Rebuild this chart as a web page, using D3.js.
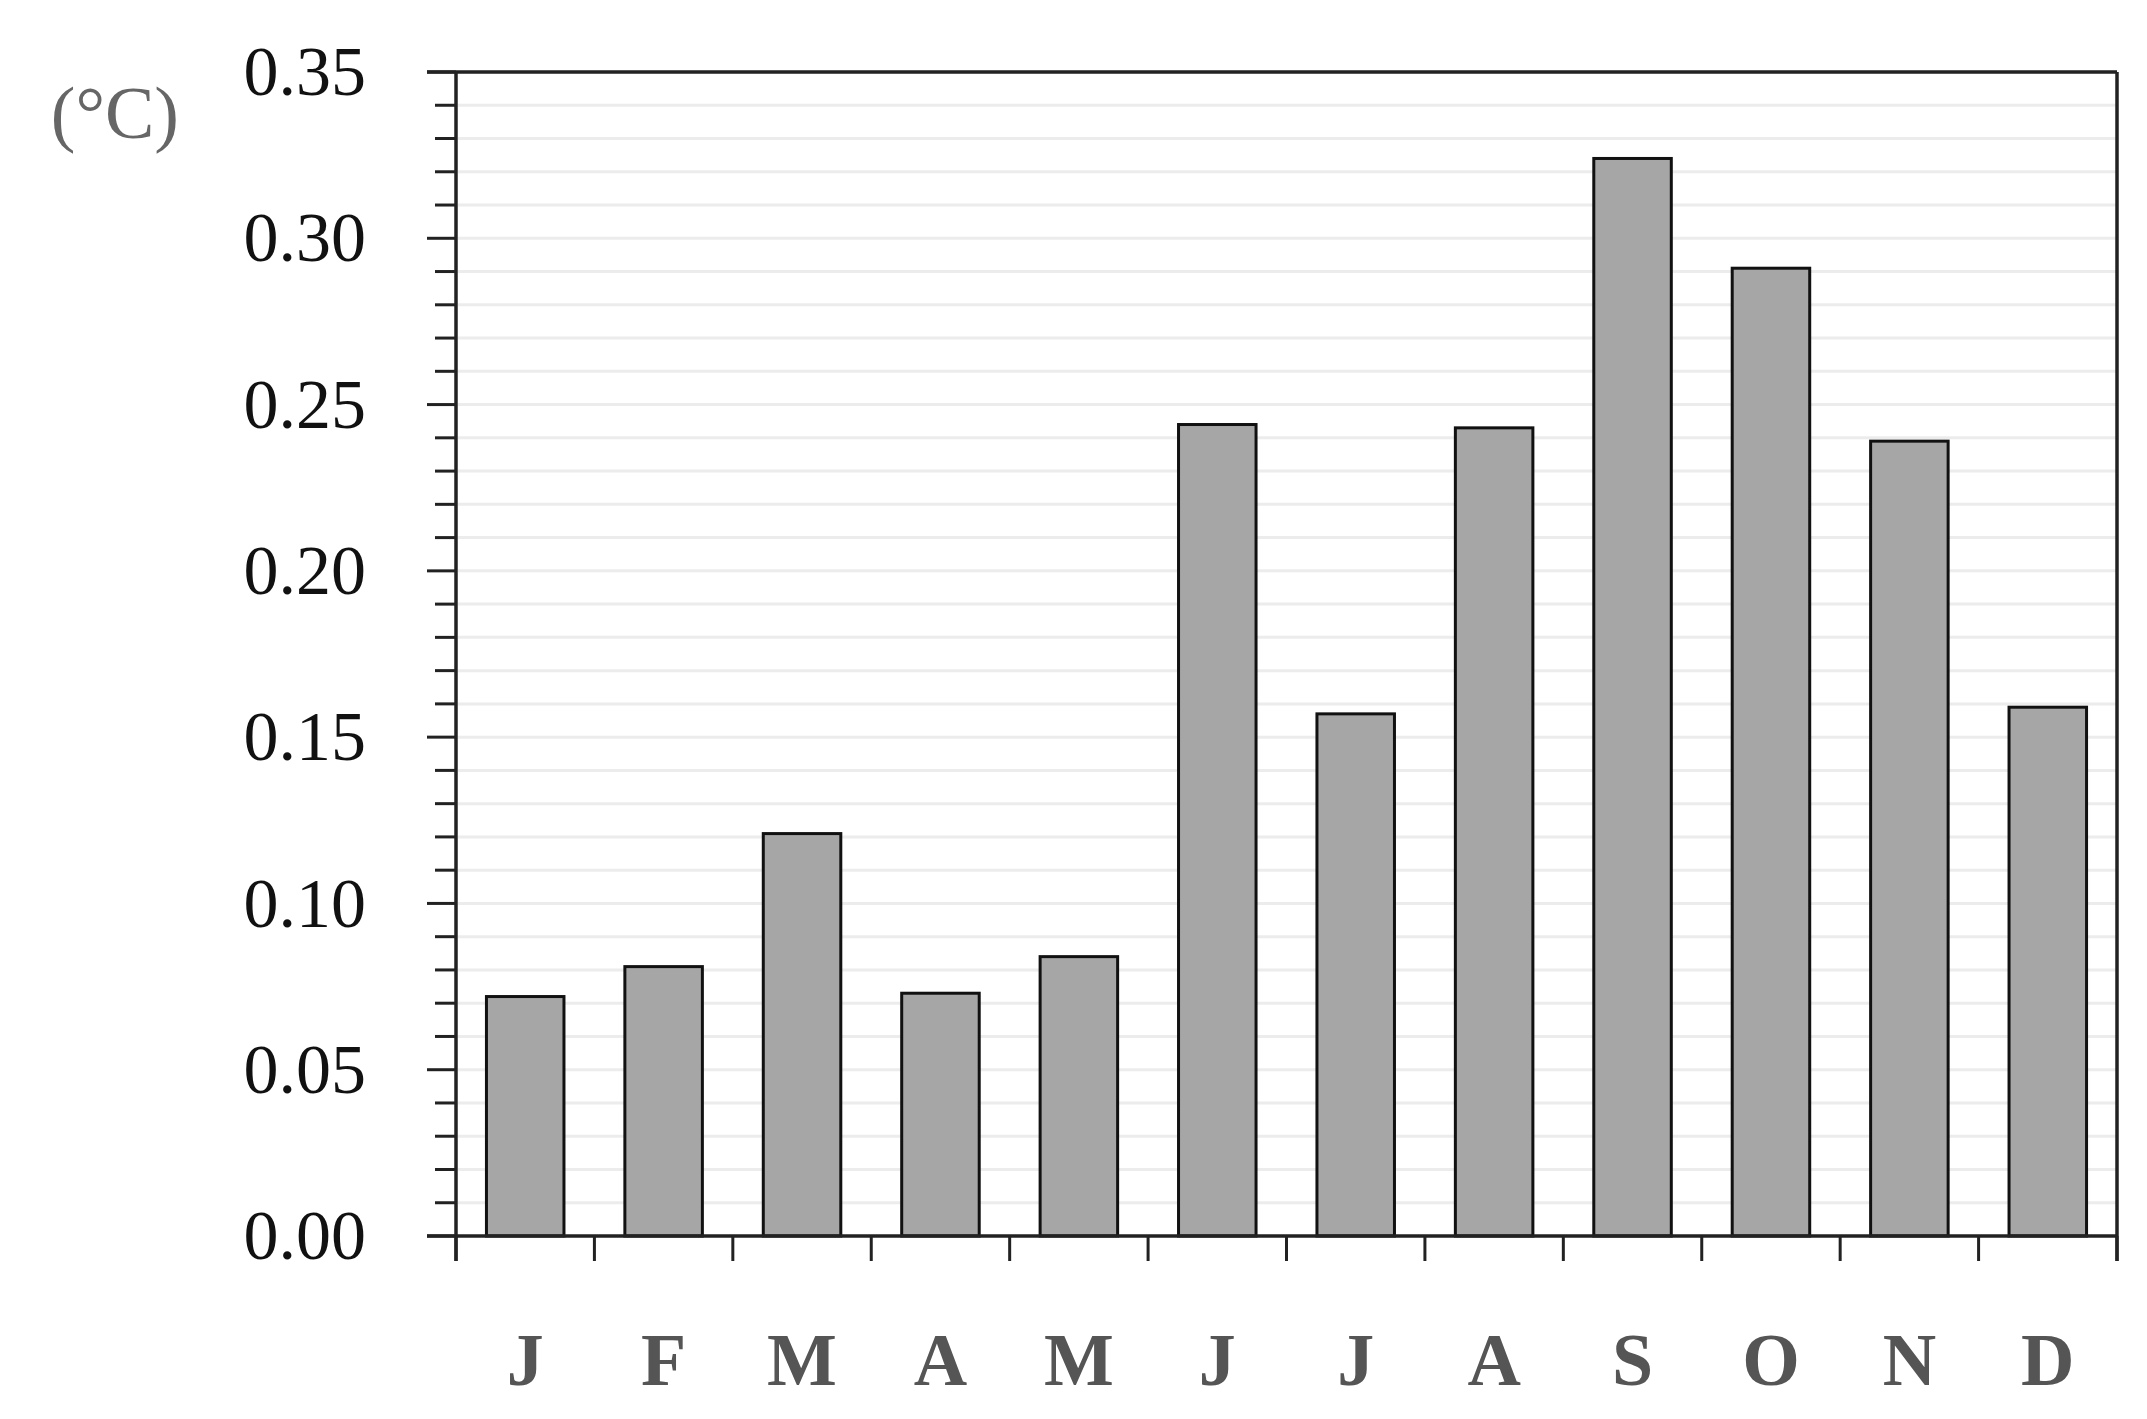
<!DOCTYPE html>
<html><head><meta charset="utf-8">
<script src="https://cdn.jsdelivr.net/npm/d3@7"></script>
<style>body{margin:0;background:#fff}</style></head>
<body><svg id="c" width="2147" height="1419"></svg>
<script>
const months = ["J","F","M","A","M","J","J","A","S","O","N","D"];
const values = [0.072,0.081,0.121,0.073,0.084,0.244,0.157,0.243,0.324,0.291,0.239,0.159];
const yTicks = [0,0.05,0.1,0.15,0.2,0.25,0.3,0.35];
const unit = "(°C)";

const svg = d3.select("#c");
const L=456,R=2117,T=72,B=1236;
const ids = months.map((m,i)=>i);
const x = d3.scaleBand().domain(ids).range([L,R]).paddingInner(0.44).paddingOuter(0.22);
const xb = d3.scaleLinear().domain([0,12]).range([L,R]);
const y = d3.scaleLinear().domain([0,0.35]).range([B,T]);
const minor = d3.range(0,36).map(i=>i/100);

// gridlines
svg.append("g").selectAll("line").data(minor.filter(v=>v>0)).join("line")
  .attr("x1",L+2).attr("x2",R).attr("y1",d=>y(d)).attr("y2",d=>y(d))
  .attr("stroke","#ececec").attr("stroke-width",3);

// bars
svg.append("g").selectAll("rect").data(values).join("rect")
  .attr("x",(d,i)=>x(i)).attr("width",x.bandwidth())
  .attr("y",d=>y(d)).attr("height",d=>B-y(d))
  .attr("fill","#a6a6a6").attr("stroke","#111").attr("stroke-width",3);

// frame
const g = svg.append("g").attr("stroke","#222").attr("stroke-width",3.5);
g.append("line").attr("x1",L-29).attr("x2",R).attr("y1",T).attr("y2",T);
g.append("line").attr("x1",L-29).attr("x2",R).attr("y1",B).attr("y2",B);
g.append("line").attr("x1",L).attr("x2",L).attr("y1",T).attr("y2",B+25);
g.append("line").attr("x1",R).attr("x2",R).attr("y1",T).attr("y2",B+25);

// y ticks
svg.append("g").selectAll("line").data(minor).join("line")
  .attr("x1",d=>Math.round(d*100)%5===0?L-29:L-21).attr("x2",L)
  .attr("y1",d=>y(d)).attr("y2",d=>y(d)).attr("stroke","#222").attr("stroke-width",3);
svg.append("g").selectAll("text").data(yTicks).join("text")
  .attr("x",366).attr("y",d=>y(d)).attr("dy","0.33em").attr("text-anchor","end")
  .attr("font-family","Liberation Serif").attr("font-size",70).attr("fill","#111")
  .text(d=>d.toFixed(2));

// x ticks
svg.append("g").selectAll("line").data(d3.range(0,13)).join("line")
  .attr("x1",d=>xb(d)).attr("x2",d=>xb(d)).attr("y1",B).attr("y2",B+25)
  .attr("stroke","#222").attr("stroke-width",3);
svg.append("g").selectAll("text").data(months).join("text")
  .attr("x",(d,i)=>x(i)+x.bandwidth()/2).attr("y",1385).attr("text-anchor","middle")
  .attr("font-family","Liberation Serif").attr("font-weight","bold").attr("font-size",74)
  .attr("fill","#555").text(d=>d);

svg.append("text").attr("x",179).attr("y",138).attr("text-anchor","end")
  .attr("font-family","Liberation Serif").attr("font-size",74).attr("fill","#666").text(unit);
</script></body></html>
